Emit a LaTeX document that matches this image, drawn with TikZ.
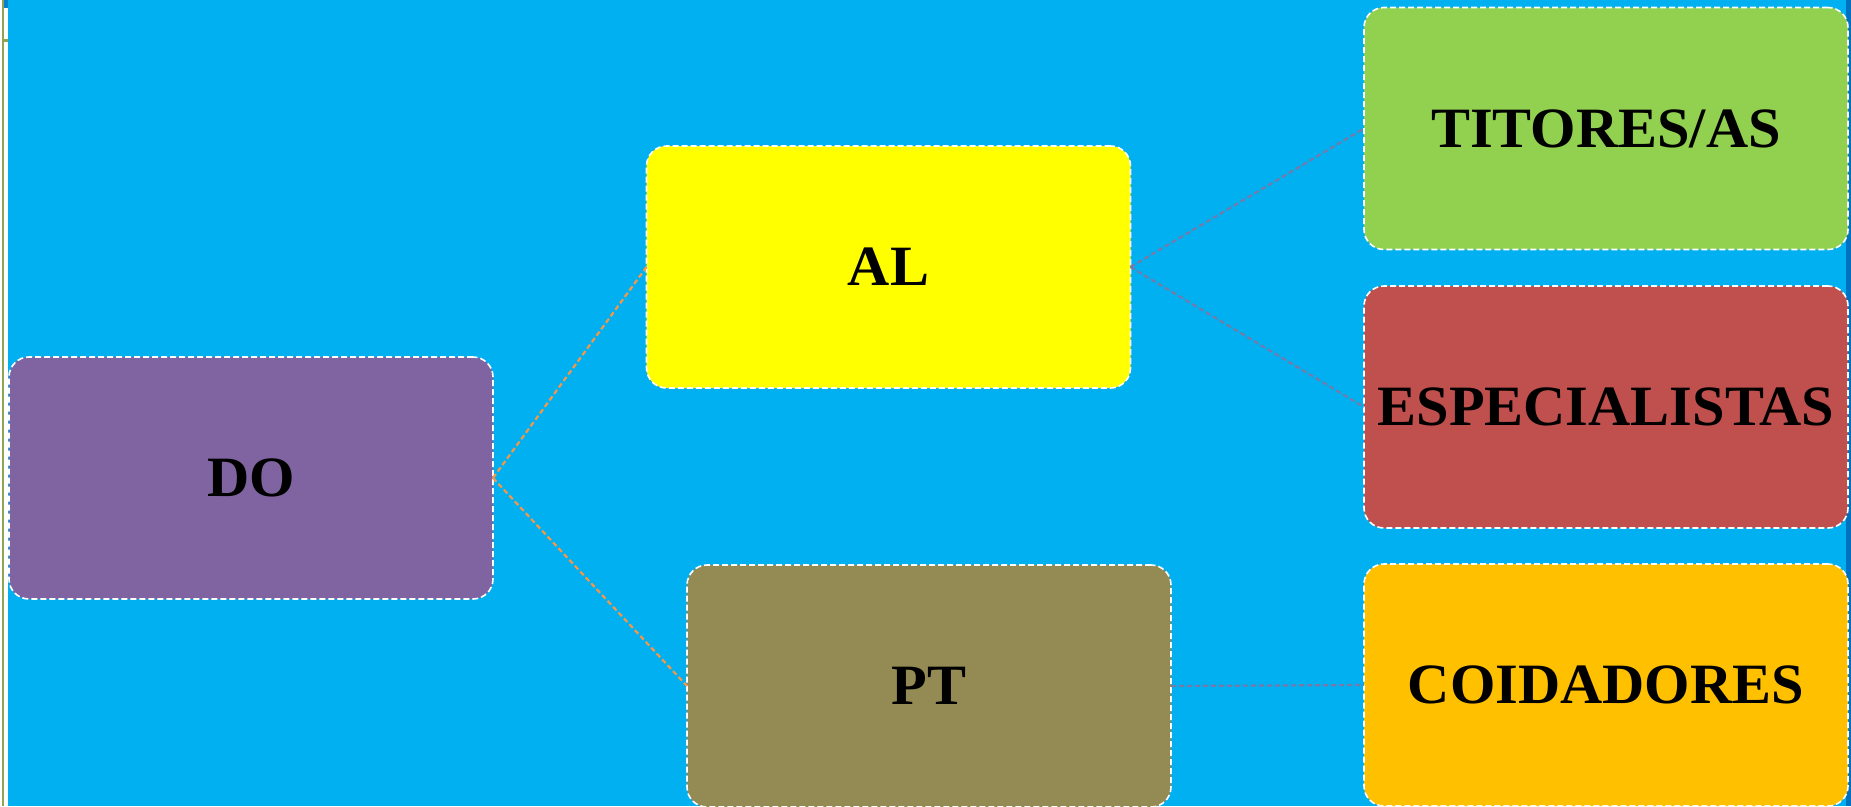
\documentclass[tikz,border=0pt]{standalone}
\usepackage{fontspec}
\setmainfont{Liberation Serif}
\newfontfamily\boxfont{Liberation Serif}[FakeStretch=1.025,
  BoldFeatures={FakeStretch=1.025}]
\definecolor{bgblue}{HTML}{00B0F0}
\definecolor{darkedge}{HTML}{0070C0}
\definecolor{leftgreen}{HTML}{8FA552}
\definecolor{cdo}{HTML}{8064A2}
\definecolor{cal}{HTML}{FFFF00}
\definecolor{cpt}{HTML}{948A54}
\definecolor{ctit}{HTML}{92D050}
\definecolor{cesp}{HTML}{C0504D}
\definecolor{ccoi}{HTML}{FFC000}
\definecolor{corange}{HTML}{F79646}
\definecolor{cgrayline}{RGB}{118,122,170}
\tikzset{
  box/.style={draw=white, line width=1.6pt, dash pattern=on 6pt off 3pt,
    rounded corners=20pt, minimum width=484pt, minimum height=242pt,
    inner sep=0pt, outer sep=0pt, text=black,
    font=\boxfont\fontsize{57}{60}\selectfont\bfseries},
  oline/.style={draw=corange, line width=2.2pt, dash pattern=on 5pt off 3pt},
  gline/.style={draw=cgrayline, line width=2.2pt, dash pattern=on 5pt off 3pt}
}
\begin{document}
\begin{tikzpicture}[x=1pt,y=-1pt]
\useasboundingbox (0,0) rectangle (1851,806);
\clip (0,0) rectangle (1851,806);
\fill[white] (0,0) rectangle (1851,806);
\fill[bgblue] (8,0) rectangle (1846,806);
\fill[darkedge] (1846,0) rectangle (1851,806);
\fill[leftgreen] (2,0) rectangle (4,806);
\fill[darkedge!70!bgblue] (4,0) rectangle (8,8);
\fill[leftgreen] (2,39) rectangle (8,42);

\node[box, fill=cdo]  (DO)  at (251,478) {DO};
\node[box, fill=cal]  (AL)  at (888.5,267) {AL};
\node[box, fill=cpt]  (PT)  at (929,686) {PT};
\node[box, fill=ctit] (TIT) at (1606,128.5) {TITORES/AS};
\node[box, fill=cesp] (ESP) at (1606,407) {ESPECIALISTAS};
\node[box, fill=ccoi] (COI) at (1606,685) {COIDADORES};

\draw[oline] (DO.east) -- (AL.west);
\draw[oline] (DO.east) -- (PT.west);
\draw[gline] (AL.east) -- (TIT.west);
\draw[gline] (AL.east) -- (ESP.west);
\draw[gline] (PT.east) -- (COI.west);
\end{tikzpicture}
\end{document}
